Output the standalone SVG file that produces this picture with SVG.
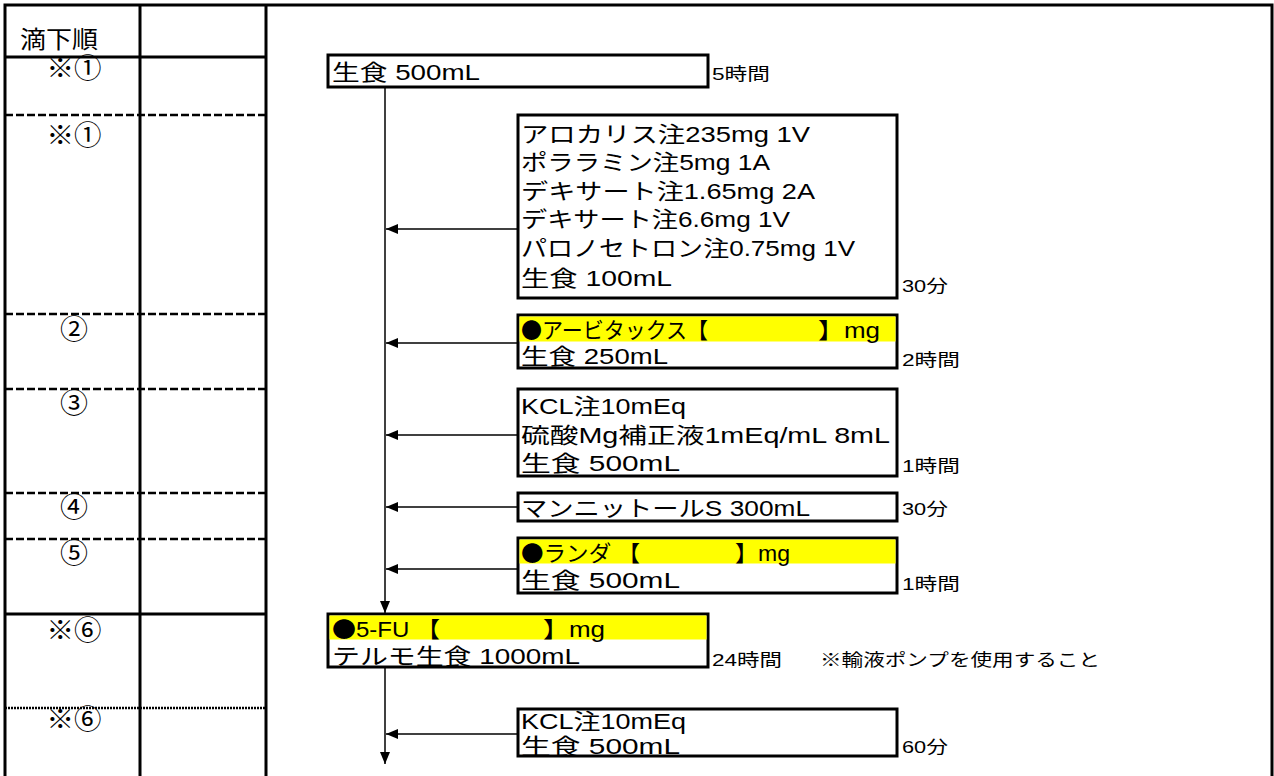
<svg xmlns="http://www.w3.org/2000/svg" width="1274" height="776" viewBox="0 0 1274 776">
<style>
text{font-family:"Liberation Sans","Noto Sans CJK JP",sans-serif;fill:#000}
.t{font-size:22px}
.s{font-size:17px}
.lbl{font-size:27px;text-anchor:middle}
.hd{font-size:24px}
.dotc{font-family:"Noto Sans CJK JP",sans-serif}
.box{fill:#fff;stroke:#000;stroke-width:3}
.hl{fill:#ffff00}
.frame{stroke:#000;stroke-width:3;fill:none}
.dash{stroke:#000;stroke-width:2.5;stroke-dasharray:8,3;fill:none}
.dot{stroke:#000;stroke-width:2.5;stroke-dasharray:2,1;fill:none}
.con{stroke:#000;stroke-width:1.5;fill:none}
</style>
<defs>
<marker id="ah" viewBox="0 0 12 10" refX="12" refY="5" markerWidth="12" markerHeight="10" markerUnits="userSpaceOnUse" orient="auto">
<path d="M0,0 L12,5 L0,10 z" fill="#000"/>
</marker>
</defs>
<rect width="1274" height="776" fill="#fff"/>

<g id="table">
<path class="frame" d="M5,776 V5 H1272 V776 M140,5 V776 M266,5 V776 M5,57 H266 M5,614 H266"/>
<path class="dash" d="M5,115 H266 M5,314 H266 M5,389 H266 M5,493 H266 M5,539 H266"/>
<path class="dot" d="M5,708 H266"/>
<text class="hd" x="20" y="48" textLength="78" lengthAdjust="spacingAndGlyphs">滴下順</text>
<text class="lbl" x="74" y="78" textLength="55" lengthAdjust="spacingAndGlyphs">※①</text>
<text class="lbl" x="74" y="145" textLength="55" lengthAdjust="spacingAndGlyphs">※①</text>
<text class="lbl" x="74" y="339" textLength="28" lengthAdjust="spacingAndGlyphs">②</text>
<text class="lbl" x="74" y="413" textLength="28" lengthAdjust="spacingAndGlyphs">③</text>
<text class="lbl" x="74" y="517" textLength="28" lengthAdjust="spacingAndGlyphs">④</text>
<text class="lbl" x="74" y="563" textLength="28" lengthAdjust="spacingAndGlyphs">⑤</text>
<text class="lbl" x="74" y="640" textLength="55" lengthAdjust="spacingAndGlyphs">※⑥</text>
<text class="lbl" x="74" y="729" textLength="55" lengthAdjust="spacingAndGlyphs">※⑥</text>
</g>

<g id="connectors">
<line class="con" x1="385" y1="87" x2="385" y2="613" marker-end="url(#ah)"/>
<line class="con" x1="518" y1="229" x2="386" y2="229" marker-end="url(#ah)"/>
<line class="con" x1="518" y1="343" x2="386" y2="343" marker-end="url(#ah)"/>
<line class="con" x1="518" y1="435" x2="386" y2="435" marker-end="url(#ah)"/>
<line class="con" x1="518" y1="507" x2="386" y2="507" marker-end="url(#ah)"/>
<line class="con" x1="518" y1="569" x2="386" y2="569" marker-end="url(#ah)"/>
<line class="con" x1="385" y1="668" x2="385" y2="764" marker-end="url(#ah)"/>
<line class="con" x1="518" y1="734" x2="386" y2="734" marker-end="url(#ah)"/>
</g>

<g id="nodeA">
<rect class="box" x="328" y="55" width="380" height="32"/>
<text class="t" x="332" y="80" textLength="148" lengthAdjust="spacingAndGlyphs">生食  500mL</text>
<text class="s" x="712" y="80" textLength="58" lengthAdjust="spacingAndGlyphs">5時間</text>
</g>

<g id="nodeB">
<rect class="box" x="518" y="115" width="379" height="183"/>
<text class="t" x="521" y="142" textLength="289" lengthAdjust="spacingAndGlyphs">アロカリス注235mg  1V</text>
<text class="t" x="521" y="170" textLength="249" lengthAdjust="spacingAndGlyphs">ポララミン注5mg  1A</text>
<text class="t" x="521" y="199" textLength="294" lengthAdjust="spacingAndGlyphs">デキサート注1.65mg  2A</text>
<text class="t" x="521" y="227" textLength="269" lengthAdjust="spacingAndGlyphs">デキサート注6.6mg  1V</text>
<text class="t" x="521" y="256" textLength="334" lengthAdjust="spacingAndGlyphs">パロノセトロン注0.75mg  1V</text>
<text class="t" x="521" y="286" textLength="151" lengthAdjust="spacingAndGlyphs">生食  100mL</text>
<text class="s" x="902" y="292" textLength="46" lengthAdjust="spacingAndGlyphs">30分</text>
</g>

<g id="nodeC">
<rect class="box" x="518" y="315" width="379" height="53"/>
<rect class="hl" x="519.5" y="316.5" width="376" height="25"/>
<text class="t" x="521" y="337.5" textLength="187" lengthAdjust="spacingAndGlyphs"><tspan class="dotc">●</tspan>アービタックス【</text>
<text class="t" x="818" y="337.5" textLength="62" lengthAdjust="spacingAndGlyphs">】mg</text>
<text class="t" x="521" y="364" textLength="147" lengthAdjust="spacingAndGlyphs">生食 250mL</text>
<text class="s" x="902" y="366" textLength="58" lengthAdjust="spacingAndGlyphs">2時間</text>
</g>

<g id="nodeD">
<rect class="box" x="518" y="389" width="379" height="87"/>
<text class="t" x="521" y="414" textLength="165" lengthAdjust="spacingAndGlyphs">KCL注10mEq</text>
<text class="t" x="521" y="443" textLength="369" lengthAdjust="spacingAndGlyphs">硫酸Mg補正液1mEq/mL  8mL</text>
<text class="t" x="521" y="471" textLength="159" lengthAdjust="spacingAndGlyphs">生食  500mL</text>
<text class="s" x="902" y="472" textLength="58" lengthAdjust="spacingAndGlyphs">1時間</text>
</g>

<g id="nodeE">
<rect class="box" x="518" y="493" width="379" height="28"/>
<text class="t" x="521" y="516" textLength="289" lengthAdjust="spacingAndGlyphs">マンニットールS  300mL</text>
<text class="s" x="902" y="515" textLength="46" lengthAdjust="spacingAndGlyphs">30分</text>
</g>

<g id="nodeF">
<rect class="box" x="518" y="538" width="379" height="55"/>
<rect class="hl" x="519.5" y="539.5" width="376" height="24"/>
<text class="t" x="521" y="561" textLength="119" lengthAdjust="spacingAndGlyphs"><tspan class="dotc">●</tspan>ランダ 【</text>
<text class="t" x="735" y="561" textLength="55" lengthAdjust="spacingAndGlyphs">】mg</text>
<text class="t" x="521" y="588" textLength="159" lengthAdjust="spacingAndGlyphs">生食  500mL</text>
<text class="s" x="902" y="590" textLength="58" lengthAdjust="spacingAndGlyphs">1時間</text>
</g>

<g id="nodeG">
<rect class="box" x="328" y="614" width="380" height="53"/>
<rect class="hl" x="329.5" y="615.5" width="377" height="24"/>
<text class="t" x="332" y="637" textLength="108" lengthAdjust="spacingAndGlyphs"><tspan class="dotc">●</tspan>5-FU 【</text>
<text class="t" x="543" y="637" textLength="62" lengthAdjust="spacingAndGlyphs">】mg</text>
<text class="t" x="332" y="664" textLength="248" lengthAdjust="spacingAndGlyphs">テルモ生食  1000mL</text>
<text class="s" x="712" y="666" textLength="70" lengthAdjust="spacingAndGlyphs">24時間</text>
<text class="s" x="820" y="666" textLength="280" lengthAdjust="spacingAndGlyphs">※輸液ポンプを使用すること</text>
</g>

<g id="nodeH">
<rect class="box" x="518" y="709" width="379" height="47"/>
<text class="t" x="521" y="729" textLength="165" lengthAdjust="spacingAndGlyphs">KCL注10mEq</text>
<text class="t" x="521" y="754" textLength="159" lengthAdjust="spacingAndGlyphs">生食  500mL</text>
<text class="s" x="902" y="753" textLength="46" lengthAdjust="spacingAndGlyphs">60分</text>
</g>
</svg>
